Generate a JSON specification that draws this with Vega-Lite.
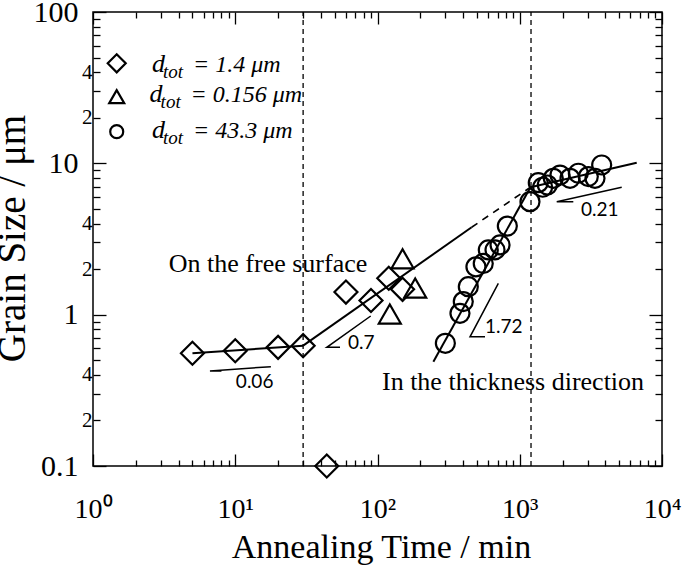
{
  "$schema": "https://vega.github.io/schema/vega-lite/v6.json",
  "width": 569,
  "height": 454,
  "autosize": "none",
  "padding": {"left": 93, "top": 12, "right": 23, "bottom": 106},
  "background": "white",
  "config": {
    "view": {"stroke": "black", "strokeWidth": 1.5},
    "font": "Liberation Serif",
    "axis": {"labelFont": "Liberation Serif", "titleFont": "Liberation Serif"},
    "style": {"guide-label": {"font": "Liberation Serif"}, "guide-title": {"font": "Liberation Serif"}}
  },
  "datasets": {
    "pts": [
      {"series": "1.4", "t": 5, "d": 0.556},
      {"series": "1.4", "t": 10, "d": 0.578},
      {"series": "1.4", "t": 20, "d": 0.608},
      {"series": "1.4", "t": 30, "d": 0.624},
      {"series": "1.4", "t": 60, "d": 1.41},
      {"series": "1.4", "t": 90, "d": 1.24},
      {"series": "1.4", "t": 120, "d": 1.74},
      {"series": "1.4", "t": 150, "d": 1.47},
      {"series": "1.4", "t": 44, "d": 0.1},
      {"series": "0.156", "t": 150, "d": 2.34},
      {"series": "0.156", "t": 184, "d": 1.5},
      {"series": "0.156", "t": 122, "d": 1.01},
      {"series": "43.3", "t": 300, "d": 0.647},
      {"series": "43.3", "t": 380, "d": 1.02},
      {"series": "43.3", "t": 401, "d": 1.22},
      {"series": "43.3", "t": 435, "d": 1.53},
      {"series": "43.3", "t": 492, "d": 2.07},
      {"series": "43.3", "t": 554, "d": 2.18},
      {"series": "43.3", "t": 601, "d": 2.68},
      {"series": "43.3", "t": 670, "d": 2.68},
      {"series": "43.3", "t": 727, "d": 2.89},
      {"series": "43.3", "t": 818, "d": 3.85},
      {"series": "43.3", "t": 1180, "d": 5.58},
      {"series": "43.3", "t": 1350, "d": 7.45},
      {"series": "43.3", "t": 1449, "d": 6.95},
      {"series": "43.3", "t": 1563, "d": 7.19},
      {"series": "43.3", "t": 1722, "d": 7.96},
      {"series": "43.3", "t": 1919, "d": 8.37},
      {"series": "43.3", "t": 2256, "d": 7.96},
      {"series": "43.3", "t": 2582, "d": 8.6},
      {"series": "43.3", "t": 3034, "d": 8.17},
      {"series": "43.3", "t": 3381, "d": 7.96},
      {"series": "43.3", "t": 3767, "d": 9.75}
    ],
    "fits": [
      {"line": "flat", "kind": "solid", "t": 5, "d": 0.556},
      {"line": "flat", "kind": "solid", "t": 30, "d": 0.624},
      {"line": "surf", "kind": "solid", "t": 30, "d": 0.624},
      {"line": "surf", "kind": "solid", "t": 459, "d": 3.78},
      {"line": "thick", "kind": "solid", "t": 247, "d": 0.489},
      {"line": "thick", "kind": "solid", "t": 1190, "d": 6.95},
      {"line": "late", "kind": "solid", "t": 1190, "d": 6.95},
      {"line": "late", "kind": "solid", "t": 6640, "d": 10.1},
      {"line": "extrap", "kind": "dashed", "t": 459, "d": 3.78},
      {"line": "extrap", "kind": "dashed", "t": 1190, "d": 6.95}
    ],
    "wedges": [
      {"w": "a", "o": 1, "t": 8.0, "d": 0.425},
      {"w": "a", "o": 2, "t": 6.64, "d": 0.425},
      {"w": "a", "o": 3, "t": 17.8, "d": 0.453},
      {"w": "b", "o": 1, "t": 54.5, "d": 0.608},
      {"w": "b", "o": 2, "t": 44, "d": 0.608},
      {"w": "b", "o": 3, "t": 89.6, "d": 0.98},
      {"w": "c", "o": 1, "t": 570, "d": 0.714},
      {"w": "c", "o": 2, "t": 447, "d": 0.714},
      {"w": "c", "o": 3, "t": 707, "d": 1.61},
      {"w": "e", "o": 1, "t": 2380, "d": 5.58},
      {"w": "e", "o": 2, "t": 1820, "d": 5.58},
      {"w": "e", "o": 3, "t": 5210, "d": 6.95}
    ],
    "vlines": [
      {"t": 30, "d": 0.1, "d2": 100},
      {"t": 1200, "d": 0.1, "d2": 100}
    ],
    "notes": [
      {"kind": "serif", "t": 17.0, "d": 1.914, "label": "On the free surface"},
      {"kind": "serif", "t": 897, "d": 0.318, "label": "In the thickness direction"},
      {"kind": "sans", "t": 10.1, "d": 0.327, "label": "0.06"},
      {"kind": "sans", "t": 62.1, "d": 0.593, "label": "0.7"},
      {"kind": "sans", "t": 570, "d": 0.76, "label": "1.72"},
      {"kind": "sans", "t": 2697, "d": 4.49, "label": "0.21"}
    ],
    "legsym": [
      {"series": "1.4", "t": 1.468, "d": 45.8},
      {"series": "0.156", "t": 1.468, "d": 27.6},
      {"series": "43.3", "t": 1.468, "d": 16.2}
    ],
    "legtxt": [
      {"t": 2.6, "d": 40.3, "sub": "tot", "rest": "= 1.4 μm"},
      {"t": 2.5, "d": 25.5, "sub": "tot", "rest": "= 0.156 μm"},
      {"t": 2.6, "d": 14.7, "sub": "tot", "rest": "= 43.3 μm"}
    ]
  },
  "resolve": {"axis": {"x": "independent", "y": "independent"}},
  "layer": [
    {
      "encoding": {
        "x": {
          "field": "t", "type": "quantitative",
          "scale": {"type": "log", "domain": [1, 10000], "nice": false},
          "axis": {
            "orient": "bottom",
            "values": [1,2,3,4,5,6,7,8,9,10,20,30,40,50,60,70,80,90,100,200,300,400,500,600,700,800,900,1000,2000,3000,4000,5000,6000,7000,8000,9000,10000],
            "labelExpr": "indexof([1,10,100,1000,10000], datum.value) >= 0 ? '10' + ['⁰','¹','²','³','⁴'][round(log(datum.value)/LN10)] : ''",
            "labelFont": "Liberation Serif", "labelFontSize": 28, "labelColor": "black",
            "labelBaseline": "alphabetic", "labelPadding": 63,
            "labelFlush": false, "labelOverlap": false, "labelBound": false,
            "tickSize": {"condition": {"test": "indexof([1,10,100,1000,10000], datum.value) >= 0", "value": -12}, "value": -6},
            "tickColor": "black", "tickWidth": 1.3,
            "domain": false, "grid": false,
            "title": "Annealing Time / min", "titleFont": "Liberation Serif", "titleFontSize": 34,
            "titleFontWeight": "normal", "titleColor": "black",
            "titleX": 288, "titleY": 91, "titleBaseline": "alphabetic", "titleAlign": "center"
          }
        },
        "y": {
          "field": "d", "type": "quantitative",
          "scale": {"type": "log", "domain": [0.1, 100], "nice": false},
          "axis": {
            "orient": "left",
            "values": [0.1,0.2,0.3,0.4,0.5,0.6,0.7,0.8,0.9,1,2,3,4,5,6,7,8,9,10,20,30,40,50,60,70,80,90,100],
            "labelExpr": "datum.value==0.1?'0.1':datum.value==1?'1':datum.value==10?'10':datum.value==100?'100':(datum.value==0.2||datum.value==2||datum.value==20)?'2':(datum.value==0.4||datum.value==4||datum.value==40)?'4':''",
            "labelFont": "Liberation Serif", "labelColor": "black",
            "labelFontSize": {"condition": {"test": "indexof([0.1,1,10,100], datum.value) >= 0", "value": 30}, "value": 21},
            "labelPadding": {"condition": {"test": "indexof([0.1,1,10,100], datum.value) >= 0", "value": 28}, "value": 8},
            "labelBaseline": "middle",
            "labelFlush": false, "labelOverlap": false, "labelBound": false,
            "tickSize": {"condition": {"test": "indexof([0.1,1,10,100], datum.value) >= 0", "value": -13}, "value": -7},
            "tickColor": "black", "tickWidth": 1.3,
            "domain": false, "grid": false,
            "title": "Grain Size / μm", "titleFont": "Liberation Serif", "titleFontSize": 39,
            "titleFontWeight": "normal", "titleColor": "black",
            "titleX": -69, "titleY": 226, "titleBaseline": "alphabetic", "titleAlign": "center", "titleAngle": -90
          }
        }
      },
      "layer": [
        {
          "data": {"name": "vlines"},
          "mark": {"type": "rule", "color": "black", "strokeWidth": 1.3, "strokeDash": [5, 4]},
          "encoding": {"y2": {"field": "d2"}}
        },
        {
          "data": {"name": "fits"},
          "transform": [{"filter": "datum.kind == 'solid'"}],
          "mark": {"type": "line", "color": "black", "strokeWidth": 2},
          "encoding": {"detail": {"field": "line"}}
        },
        {
          "data": {"name": "fits"},
          "transform": [{"filter": "datum.kind == 'dashed'"}],
          "mark": {"type": "line", "color": "black", "strokeWidth": 1.6, "strokeDash": [7, 6]},
          "encoding": {"detail": {"field": "line"}}
        },
        {
          "data": {"name": "wedges"},
          "mark": {"type": "line", "color": "black", "strokeWidth": 1.5},
          "encoding": {"detail": {"field": "w"}, "order": {"field": "o"}}
        },
        {
          "data": {"name": "pts"},
          "transform": [{"filter": "datum.series == '1.4'"}],
          "mark": {"type": "point", "shape": "diamond", "filled": false, "size": 529, "stroke": "black", "strokeWidth": 2.2, "opacity": 1}
        },
        {
          "data": {"name": "pts"},
          "transform": [{"filter": "datum.series == '0.156'"}],
          "mark": {"type": "point", "shape": "triangle-up", "filled": false, "size": 484, "stroke": "black", "strokeWidth": 2.2, "opacity": 1}
        },
        {
          "data": {"name": "pts"},
          "transform": [{"filter": "datum.series == '43.3'"}],
          "mark": {"type": "point", "shape": "circle", "filled": false, "size": 361, "stroke": "black", "strokeWidth": 2.2, "opacity": 1}
        },
        {
          "data": {"name": "notes"},
          "transform": [{"filter": "datum.kind == 'serif'"}],
          "mark": {"type": "text", "font": "Liberation Serif", "fontSize": 26, "align": "center", "baseline": "alphabetic", "color": "black"},
          "encoding": {"text": {"field": "label"}}
        },
        {
          "data": {"name": "notes"},
          "transform": [{"filter": "datum.kind == 'sans'"}],
          "mark": {"type": "text", "font": "Lato", "fontSize": 19, "align": "left", "baseline": "alphabetic", "color": "black"},
          "encoding": {"text": {"field": "label"}}
        },
        {
          "data": {"name": "legsym"},
          "transform": [{"filter": "datum.series == '1.4'"}],
          "mark": {"type": "point", "shape": "diamond", "filled": false, "size": 324, "stroke": "black", "strokeWidth": 2.2, "opacity": 1}
        },
        {
          "data": {"name": "legsym"},
          "transform": [{"filter": "datum.series == '0.156'"}],
          "mark": {"type": "point", "shape": "triangle-up", "filled": false, "size": 225, "stroke": "black", "strokeWidth": 2.2, "opacity": 1}
        },
        {
          "data": {"name": "legsym"},
          "transform": [{"filter": "datum.series == '43.3'"}],
          "mark": {"type": "point", "shape": "circle", "filled": false, "size": 169, "stroke": "black", "strokeWidth": 2.2, "opacity": 1}
        },
        {
          "data": {"name": "legtxt"},
          "mark": {"type": "text", "text": "d", "font": "Liberation Serif", "fontStyle": "italic", "fontSize": 26, "align": "left", "baseline": "alphabetic", "color": "black"}
        },
        {
          "data": {"name": "legtxt"},
          "mark": {"type": "text", "font": "Liberation Serif", "fontStyle": "italic", "fontSize": 19, "align": "left", "baseline": "alphabetic", "dx": 11, "dy": 6, "color": "black"},
          "encoding": {"text": {"field": "sub"}}
        },
        {
          "data": {"name": "legtxt"},
          "mark": {"type": "text", "font": "Liberation Serif", "fontStyle": "italic", "fontSize": 24, "align": "left", "baseline": "alphabetic", "dx": 41, "color": "black"},
          "encoding": {"text": {"field": "rest"}}
        }
      ]
    },
    {
      "data": {"name": "pts"},
      "mark": {"type": "point", "opacity": 0},
      "encoding": {
        "x": {
          "field": "t", "type": "quantitative",
          "scale": {"type": "log", "domain": [1, 10000], "nice": false},
          "axis": {
            "orient": "top", "labels": false, "title": null, "domain": false, "grid": false,
            "values": [1,2,3,4,5,6,7,8,9,10,20,30,40,50,60,70,80,90,100,200,300,400,500,600,700,800,900,1000,2000,3000,4000,5000,6000,7000,8000,9000,10000],
            "tickSize": {"condition": {"test": "indexof([1,10,100,1000,10000], datum.value) >= 0", "value": -12}, "value": -6},
            "tickColor": "black", "tickWidth": 1.3
          }
        },
        "y": {
          "field": "d", "type": "quantitative",
          "scale": {"type": "log", "domain": [0.1, 100], "nice": false},
          "axis": {
            "orient": "right", "labels": false, "title": null, "domain": false, "grid": false,
            "values": [0.1,0.2,0.3,0.4,0.5,0.6,0.7,0.8,0.9,1,2,3,4,5,6,7,8,9,10,20,30,40,50,60,70,80,90,100],
            "tickSize": {"condition": {"test": "indexof([0.1,1,10,100], datum.value) >= 0", "value": -13}, "value": -7},
            "tickColor": "black", "tickWidth": 1.3
          }
        }
      }
    }
  ]
}
